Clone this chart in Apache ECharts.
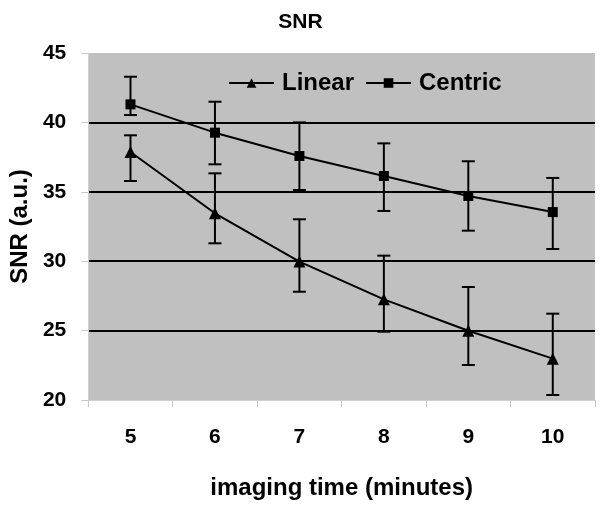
<!DOCTYPE html>
<html>
<head>
<meta charset="utf-8">
<script src="https://cdn.jsdelivr.net/npm/echarts@6/dist/echarts.min.js"></script>
<style>html,body{margin:0;padding:0;background:#fff}#c{width:601px;height:505px}</style>
</head>
<body>
<div id="c"></div>
<script>
const categories = ['5', '6', '7', '8', '9', '10'];
const linear = [37.87, 33.45, 29.97, 27.25, 24.99, 22.98];
const linearLow = [35.78, 31.29, 27.8, 24.92, 22.52, 20.36];
const linearHigh = [39.07, 36.33, 33.02, 30.4, 28.14, 26.22];
const centric = [41.3, 39.26, 37.58, 36.14, 34.7, 33.54];
const centricLow = [40.53, 36.98, 35.13, 33.62, 32.2, 30.88];
const centricHigh = [43.29, 41.49, 40.0, 38.49, 37.2, 36.0];
const yTicks = [20, 25, 30, 35, 40, 45];

const FONT = 'Liberation Sans';
const chart = echarts.init(document.getElementById('c'));

function errData(low, high) {
  return low.map((l, i) => [i, l, high[i]]);
}
function renderErr(params, api) {
  const x = api.value(0);
  const lo = api.coord([x, api.value(1)]);
  const hi = api.coord([x, api.value(2)]);
  const w = 6.5;
  const style = { stroke: '#000', lineWidth: 2 };
  return {
    type: 'group',
    children: [
      { type: 'line', shape: { x1: lo[0], y1: lo[1], x2: hi[0], y2: hi[1] }, style },
      { type: 'line', shape: { x1: lo[0] - w, y1: lo[1], x2: lo[0] + w, y2: lo[1] }, style },
      { type: 'line', shape: { x1: hi[0] - w, y1: hi[1], x2: hi[0] + w, y2: hi[1] }, style }
    ]
  };
}

chart.setOption({
  animation: false,
  title: {
    text: 'SNR', left: 'center', top: 7,
    textStyle: { fontFamily: FONT, fontWeight: 'bold', fontSize: 21, color: '#000' }
  },
  legend: {
    left: 223, top: 66,
    itemWidth: 45, itemHeight: 12, itemGap: 11,
    textStyle: { fontFamily: FONT, fontWeight: 'bold', fontSize: 24, color: '#000', padding: [0, 0, 0, 3] },
    data: ['Linear', 'Centric']
  },
  grid: {
    left: 87, top: 53, right: 6, bottom: 105,
    show: true, backgroundColor: '#C0C0C0', borderWidth: 0
  },
  xAxis: {
    type: 'category', data: categories, boundaryGap: true,
    name: 'imaging time (minutes)', nameLocation: 'middle', nameGap: 76,
    nameTextStyle: { fontFamily: FONT, fontWeight: 'bold', fontSize: 24, color: '#000' },
    axisLine: { show: true, lineStyle: { color: '#D0D0D0', width: 1 } },
    axisTick: { show: true, length: 7, alignWithLabel: false, lineStyle: { color: '#C8C8C8' } },
    axisLabel: { fontFamily: FONT, fontWeight: 'bold', fontSize: 21, color: '#000', margin: 27 },
    splitLine: { show: false }
  },
  yAxis: {
    type: 'value', min: 20, max: 45, interval: 5,
    name: 'SNR (a.u.)', nameLocation: 'middle', nameGap: 55,
    nameTextStyle: { fontFamily: FONT, fontWeight: 'bold', fontSize: 24, color: '#000' },
    axisLine: { show: true, lineStyle: { color: '#D0D0D0', width: 1 } },
    axisTick: { show: true, length: 7, lineStyle: { color: '#C8C8C8' } },
    axisLabel: { fontFamily: FONT, fontWeight: 'bold', fontSize: 21, color: '#000', margin: 22,
      formatter: v => yTicks.includes(v) ? String(v) : '' },
    splitLine: { show: true, lineStyle: { color: ['rgba(0,0,0,0)', '#000', '#000', '#000', '#000', 'rgba(0,0,0,0)'], width: 2 } }
  },
  series: [
    {
      name: 'Linear', type: 'line', data: linear,
      symbol: 'triangle', symbolSize: 12,
      lineStyle: { color: '#000', width: 2 },
      itemStyle: { color: '#000' }, z: 3
    },
    {
      name: 'Centric', type: 'line', data: centric,
      symbol: 'rect', symbolSize: 10,
      lineStyle: { color: '#000', width: 2 },
      itemStyle: { color: '#000' }, z: 3
    },
    {
      type: 'custom', renderItem: renderErr, data: errData(linearLow, linearHigh), z: 2,
      encode: { x: 0, y: [1, 2] }
    },
    {
      type: 'custom', renderItem: renderErr, data: errData(centricLow, centricHigh), z: 2,
      encode: { x: 0, y: [1, 2] }
    }
  ]
});
</script>
</body>
</html>
